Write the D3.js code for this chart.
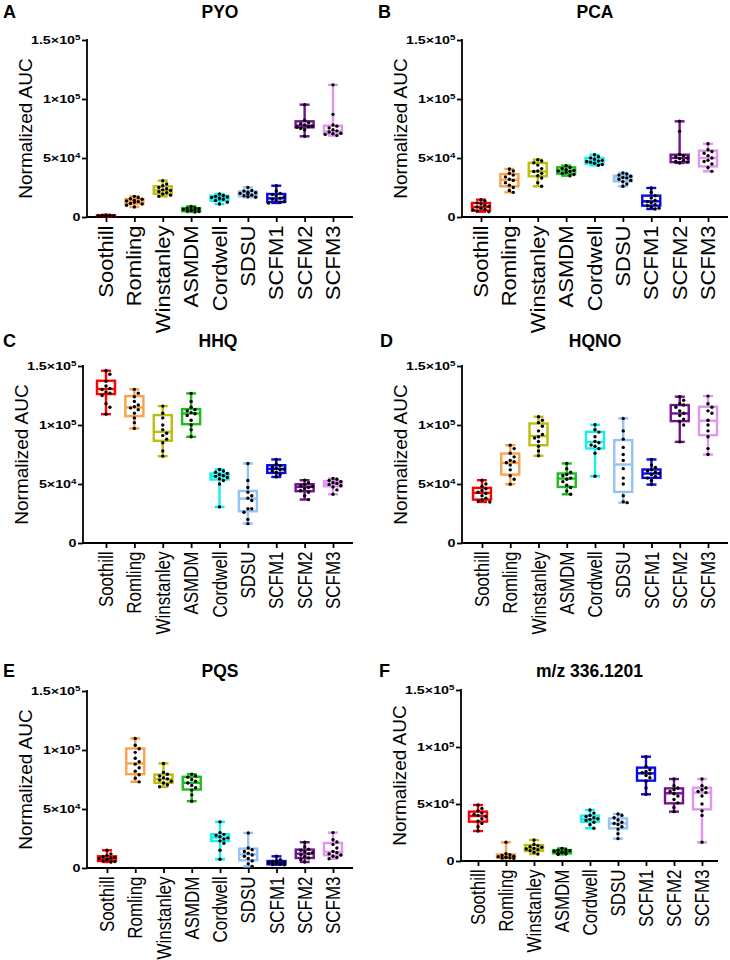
<!DOCTYPE html>
<html>
<head>
<meta charset="utf-8">
<script src="https://cdn.jsdelivr.net/npm/d3@7"></script>
<style>
  html, body { margin: 0; padding: 0; background: #fff; }
  svg { display: block; }
  text { font-family: "Liberation Sans", Arial, Helvetica, sans-serif; }
</style>
</head>
<body>
<svg id="chart" width="730" height="960"></svg>
<script>
// ---------------- DATA (values in thousands of AUC units) ----------------
const categories = ["Soothill","Romling","Winstanley","ASMDM","Cordwell","SDSU","SCFM1","SCFM2","SCFM3"];
const colors = ["#ff0000","#f9a24e","#bdbd0c","#1ebd1e","#12f0f0","#96c2f4","#0a0ae6","#74118f","#e294f2"];
const panelLetters = ["A","B","C","D","E","F"];
const panelTitles = ["PYO","PCA","HHQ","HQNO","PQS","m/z 336.1201"];
const yTickValues = [0, 50, 100, 150];
const yTickMantissa = ["0", "5×10", "1×10", "1.5×10"];
const yTickExponent = ["", "4", "5", "5"];
const yAxisTitle = "Normalized AUC";

// box statistics per category: [min, q1, median, q3, max]
const pyoStats = [[0.5,0.8,1.0,1.3,1.8],[8.5,11.3,13.3,15.2,17.5],[17.5,19.8,22.6,26,30.8],[4.2,4.8,6.2,7.6,9],[11,13.8,16.1,18,19.5],[16.7,17.5,19.8,21.7,25.1],[11.9,12.7,15.8,19.5,26.5],[68.4,76,77.5,81.1,95.2],[69,70.5,72.6,77.4,112]];
const pcaStats = [[4.5,5.4,8.5,11.9,14.7],[20.9,26,31.6,36.4,40.7],[26,34.5,38.7,45.8,48.6],[35,36.7,39.3,42.1,43.5],[43.8,45.2,47.2,50,52.8],[26,30.2,33,35,37.3],[6.8,9.6,13.3,18.1,24.6],[45.8,46.5,50,52.8,81.1],[38.7,42.9,50,56.2,62.1]];
const hhqStats = [[109.2,126.2,130.5,137.5,146],[97.1,107.5,114.9,124.5,130.2],[73.6,86.6,94.2,108.4,116],[90,100.7,109.8,113.5,126.8],[30.6,53.8,56.6,58.9,62.3],[16.4,26.9,37.6,44.1,67.4],[56,59.4,62.8,65.9,70.8],[36.8,43.9,47.5,49.8,53.2],[41.3,48.1,50.4,52.4,54.6]];
const hqnoStats = [[34.8,36.8,42.5,46.7,53.2],[49.8,58,67.9,75.8,82.9],[73.9,82.9,90.6,101.3,107],[41.3,47.5,54.6,58.9,67.4],[56.6,80.1,85.7,94.2,100.2],[34.2,43.3,66.5,87.2,105.6],[49.5,55.2,58.9,62.3,70.8],[85.7,103.3,109.8,116.9,124],[75,91.4,103.6,115.5,124.5]];
const pqsStats = [[5.1,5.9,7.9,9.9,15],[73,79.5,88.6,101.3,109.8],[68.8,72.2,75.3,79.2,88.6],[56.6,66.5,72.2,77.3,79.5],[7.4,22.9,25.8,28.6,39.1],[1.4,6.5,11.6,16.4,29.7],[2.8,3.1,4.5,5.9,9.9],[5.1,8.5,12.2,15.6,21.8],[7.9,10.8,13.6,21.2,30]];
const mzStats = [[26.3,34.5,39.5,43.3,49.1],[2.3,2.8,3.8,5.8,16.4],[6.1,8.8,11.1,14,18.4],[5.8,6.7,7.9,9.6,11.1],[28.7,34.5,36.8,39.8,44.7],[19.6,28.7,33,37.4,41.2],[58.5,70.5,76.9,81.9,91.5],[43.3,50.6,59.4,63.7,71.9],[16.4,45.3,59.9,64.3,71.9]];

// individual replicate values per category
const pyoPoints = [
  [0.5,0.7,0.8,0.9,1.0,1.0,1.1,1.2,1.3,1.4,1.8],
  [8.5,10,11,11.5,12.5,13,13.5,14,15,15.5,16.5,17.5],
  [17.5,18.5,19.5,20.5,21.5,22.5,23,24,25,26.5,28,30.8],
  [4.2,4.6,5,5.5,6,6.2,6.5,7,7.5,7.8,9],
  [11,12.5,14,15,15.5,16,16.5,17,17.5,18.2,19.5],
  [16.7,17.2,18,18.5,19.5,20,20.5,21,22,22.5,25.1],
  [11.9,12.5,13,14,15,16,17,18,19,20,22,26.5],
  [68.4,74,75,76,76.5,77,78,79,80,82,95.2],
  [69,70,70.5,71,72,73,74,75.5,77,78,87,112]];
const pcaPoints = [
  [4.5,5,6,6.5,7.5,8.5,9,10,11,12,13.5,14.7],
  [20.9,22.5,25,27,29,31,32,34,35.5,37,39,40.7],
  [26,29,33,35,37,38.5,39,41,44,46,47.5,48.6],
  [35,36,37,38,38.5,39,39.5,40,41,42,43.5],
  [43.8,44.5,45.5,46.5,47,47.5,48,49,50,51,52.8],
  [26,28,30,31,32,33,33.5,34.5,35.5,36.5,37.3],
  [6.8,7.5,8.5,9.5,10.5,12,13,14,16,18,21,24.6],
  [45.8,46.5,47,48,49.5,50,51,52,53,72.6,81.1],
  [38.7,42,45,47,48,50,52,54,55.5,57,62.1]];
const hhqPoints = [
  [109.2,115,118,125,127,128,130,131,133,137,143,146],
  [97.1,102,106,110,113,114.5,115.5,117,120,124,127,130.2],
  [73.6,78,85,88,91,93,96,100,106,110,116],
  [90,96,100,104,108,109.5,110.5,112,113,115,120,126.8],
  [30.6,50,53,54.5,55.5,56.5,57,58,59,60,61,62.3],
  [16.4,20,26,29,29,36,38,40,43,47,53,67.4],
  [56,58,60,61,62,62.5,63.5,64.5,65.5,67,70.8],
  [36.8,40,43,44.5,46,47,48,48.5,49.5,51,53.2],
  [41.3,45,47.5,48.5,49.5,50.5,51,52,53,54,54.6]];
const hqnoPoints = [
  [34.8,35.5,36.5,38,40,42,43,44.5,46,48,50,53.2],
  [49.8,54,57,62,66,68,69,70,73,76,80,82.9],
  [73.9,78,82,86,89,90,92,95,99,102,104,107],
  [41.3,44,47,49,52,54,55,57,58,60,63,67.4],
  [56.6,76,80,82,83,85,86,90,94,96,100.2],
  [34.2,35,40,50,55,63,70,75,81,88,95,105.6],
  [49.5,53,55,56.5,58,59,60,61,62,64,66,70.8],
  [85.7,100,103,105,108,110,112,115,117,118,121,124],
  [75,80,90,95,100,104,110,112,115,118,124.5]];
const pqsPoints = [
  [5.1,5.5,6,6.8,7.5,8,8.5,9,9.5,10.5,12,15],
  [73,76,79,82,85,88,90,93,98,101,104,109.8],
  [68.8,70.5,72,73.5,74.5,75.5,76.5,78,79.5,81,88.6],
  [56.6,62,66,68,70,72,73.5,75,77,78,79.5],
  [7.4,15,21,23,24.5,25.5,26.5,27.5,28.5,30,39.1],
  [1.4,3.5,6,8,10,11,12.5,14,15.5,17,29.7],
  [2.8,3,3.3,3.8,4.2,4.5,5,5.5,6,7,9.9],
  [5.1,7,8.5,10,11,12,13,14,15,16,18,21.8],
  [7.9,9,10,11,12,13,14,17,20,22,24,30]];
const mzPoints = [
  [26.3,30,33,35,37,39,40,41,42,44,46,49.1],
  [2.3,2.5,2.8,3,3.5,3.8,4.2,4.8,5.5,6.5,16.4],
  [6.1,7.5,9,10,10.5,11,12,12.5,13.5,14.5,18.4],
  [5.8,6.3,6.8,7.3,7.8,8,8.5,9,9.5,10,11.1],
  [28.7,32,34,35.5,36.5,37,38,39,40,42,44.7],
  [19.6,24,28,30,32,33,34,36,38,40,41.2],
  [58.5,64,70,73,75,76.5,77.5,78.5,80,83,91.5],
  [43.3,47,51,54,57,59,61,62.5,64,66,71.9],
  [16.4,40,44,50,57,60,61,62.5,64,66,71.9]];

const panelStats = [pyoStats, pcaStats, hhqStats, hqnoStats, pqsStats, mzStats];
const panelPoints = [pyoPoints, pcaPoints, hhqPoints, hqnoPoints, pqsPoints, mzPoints];

// ---------------- LAYOUT ----------------
const layouts = [
  {ax: 87,  y0: 217, yt: 40,  x1: 106, x2: 333, xe: 353, ty: 18,  lx: 3,   stretch: 1.13},
  {ax: 462, y0: 217, yt: 40,  x1: 481, x2: 708, xe: 728, ty: 18,  lx: 378, stretch: 1.13},
  {ax: 83,  y0: 543, yt: 366, x1: 106, x2: 333, xe: 353, ty: 347, lx: 3,   stretch: 0.87},
  {ax: 462, y0: 543, yt: 366, x1: 482, x2: 708, xe: 728, ty: 347, lx: 380, stretch: 0.87},
  {ax: 87,  y0: 868, yt: 691, x1: 107, x2: 333, xe: 353, ty: 677, lx: 3,   stretch: 0.87},
  {ax: 461, y0: 861, yt: 690, x1: 478, x2: 702, xe: 718, ty: 677, lx: 379, stretch: 0.87}
];

const svg = d3.select("#chart");
const boxW = 18, capW = 10, dotR = 1.7;

// deterministic swarm layout limited to the box width
function swarm(vals, y, r) {
  const pts = vals.map(v => ({v, y: y(v)})).sort((a, b) => a.y - b.y);
  const placed = [];
  const step = 2 * r + 0.5;
  const offs = [0, step, -step, 2 * step, -2 * step];
  pts.forEach(p => {
    let best = 0, bestC = Infinity;
    offs.forEach(off => {
      const c = placed.filter(q => Math.abs(q.y - p.y) < step && Math.abs(q.x - off) < step).length;
      if (c < bestC) { bestC = c; best = off; }
    });
    p.x = best;
    placed.push(p);
  });
  return pts;
}

layouts.forEach((L, pi) => {
  const g = svg.append("g");
  const y = d3.scaleLinear().domain([0, 150]).range([L.y0, L.yt]);
  const x = d3.scalePoint().domain(categories).range([L.x1, L.x2]);

  // title & letter
  g.append("text").attr("x", (L.ax + L.xe) / 2).attr("y", L.ty)
    .attr("text-anchor", "middle").attr("font-weight", "bold").attr("font-size", 17.5)
    .text(panelTitles[pi]);
  g.append("text").attr("x", L.lx).attr("y", L.ty)
    .attr("font-weight", "bold").attr("font-size", 18).text(panelLetters[pi]);

  // y axis
  const yAxis = d3.axisLeft(y).tickValues(yTickValues).tickSize(5).tickSizeOuter(0).tickFormat("");
  const ya = g.append("g").attr("transform", `translate(${L.ax},0)`).call(yAxis);
  ya.select(".domain").remove();
  ya.selectAll(".tick line").attr("stroke", "#000").attr("stroke-width", 1.8);
  g.append("line").attr("x1", L.ax).attr("x2", L.ax).attr("y1", y(0) + 0.9).attr("y2", y(150) - 0.9)
    .attr("stroke", "#000").attr("stroke-width", 1.8);
  yTickValues.forEach((v, i) => {
    const t = g.append("text")
      .attr("transform", `translate(${L.ax - 6.5},${y(v) + 4}) scale(1.3,1)`)
      .attr("text-anchor", "end").attr("font-weight", "bold").attr("font-size", 11);
    t.append("tspan").text(yTickMantissa[i]);
    if (yTickExponent[i]) t.append("tspan").attr("dy", -4.5).attr("font-size", 7.5).text(yTickExponent[i]);
  });
  g.append("text")
    .attr("transform", `translate(${L.ax - 55},${(L.y0 + L.yt) / 2}) rotate(-90)`)
    .attr("text-anchor", "middle").attr("font-size", 19).text(yAxisTitle);

  // x axis
  const xAxis = d3.axisBottom(x).tickSize(5).tickSizeOuter(0).tickFormat("");
  const xa = g.append("g").attr("transform", `translate(0,${L.y0})`).call(xAxis);
  xa.select(".domain").remove();
  xa.selectAll(".tick line").attr("stroke", "#000").attr("stroke-width", 1.8);
  g.append("line").attr("x1", L.ax - 0.9).attr("x2", L.xe).attr("y1", L.y0).attr("y2", L.y0)
    .attr("stroke", "#000").attr("stroke-width", 1.8);
  categories.forEach(c => {
    g.append("text")
      .attr("transform", `translate(${x(c) + 7},${L.y0 + 8.5}) rotate(-90) scale(${L.stretch},1)`)
      .attr("text-anchor", "end").attr("font-size", 19.5).text(c);
  });

  // boxes
  const stats = panelStats[pi];
  categories.forEach((c, ci) => {
    const [mn, q1, md, q3, mx] = stats[ci];
    const cx = x(c), col = colors[ci];
    const bg = g.append("g").attr("stroke", col).attr("stroke-width", 2.4).attr("fill", "none");
    bg.append("line").attr("x1", cx).attr("x2", cx).attr("y1", y(mx)).attr("y2", y(q3));
    bg.append("line").attr("x1", cx).attr("x2", cx).attr("y1", y(q1)).attr("y2", y(mn));
    bg.append("line").attr("x1", cx - capW / 2).attr("x2", cx + capW / 2).attr("y1", y(mx)).attr("y2", y(mx));
    bg.append("line").attr("x1", cx - capW / 2).attr("x2", cx + capW / 2).attr("y1", y(mn)).attr("y2", y(mn));
    bg.append("rect").attr("x", cx - boxW / 2).attr("y", y(q3)).attr("width", boxW)
      .attr("height", Math.max(0, y(q1) - y(q3))).attr("fill", "#fff");
    bg.append("line").attr("x1", cx - boxW / 2).attr("x2", cx + boxW / 2).attr("y1", y(md)).attr("y2", y(md));
  });

  // points
  const points = panelPoints[pi];
  categories.forEach((c, ci) => {
    const sw = swarm(points[ci], y, dotR);
    g.append("g").selectAll("circle").data(sw).join("circle")
      .attr("cx", d => x(c) + d.x).attr("cy", d => d.y).attr("r", dotR).attr("fill", "#000");
  });
});
</script>
</body>
</html>
